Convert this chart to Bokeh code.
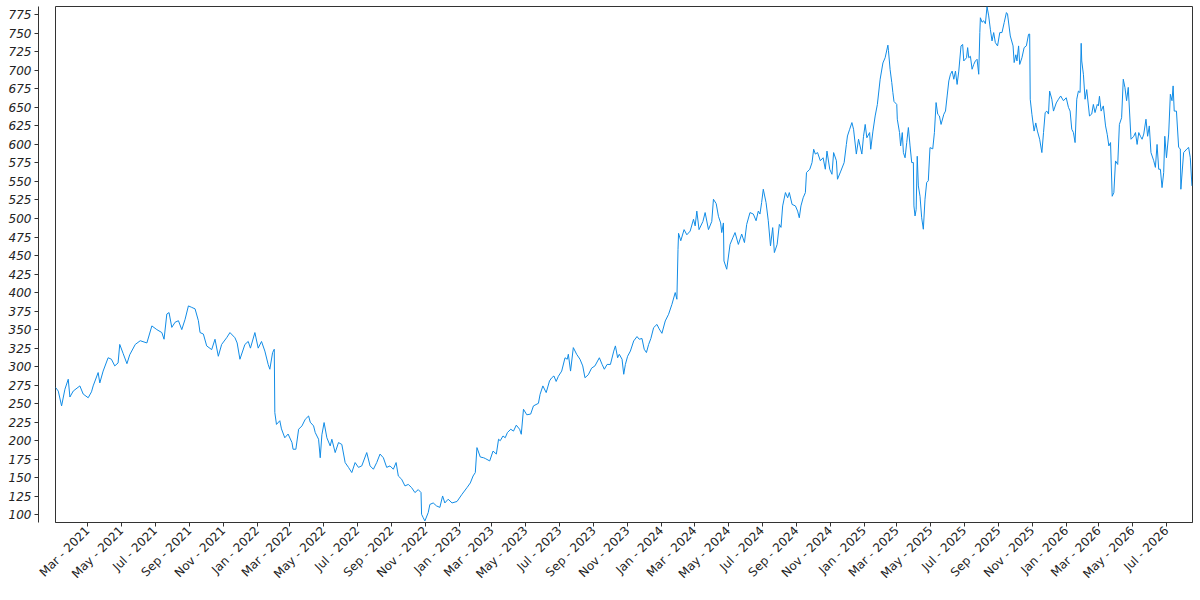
from datetime import datetime
import pandas as pd
from bokeh.plotting import figure
from bokeh.models import (ColumnDataSource, Range1d, LinearAxis, FixedTicker,
                          MonthsTicker, DatetimeTickFormatter)
from bokeh.embed import file_html
from bokeh.resources import INLINE
from math import pi

start_date = "2021-01-01"
range_start = "2021-01-02"
range_end = "2026-08-17"

# days since start_date (read from horizontal position) and values
day_offsets = [
    1, 6, 12, 18, 24, 27, 33, 45, 51, 60, 66, 69, 78, 81, 87, 96, 102, 108, 114, 117,
    123, 130, 135, 145, 154, 166, 175, 184, 193, 197, 202, 206, 211, 217, 223, 229, 235, 241, 247, 253,
    259, 262, 268, 274, 283, 289, 295, 301, 310, 316, 325, 329, 334, 343, 349, 353, 361, 367, 373, 379,
    385, 388, 393, 396, 397, 400, 406, 409, 415, 421, 428, 430, 435, 440, 446, 452, 458, 461, 467, 470,
    476, 479, 482, 486, 491, 497, 500, 506, 512, 518, 524, 530, 536, 542, 548, 554, 563, 569, 575, 581,
    587, 593, 599, 605, 611, 616, 620, 626, 632, 638, 644, 650, 656, 661, 662, 665, 668, 674, 677, 683,
    689, 695, 700, 704, 710, 717, 726, 735, 744, 750, 755, 759, 762, 768, 774, 777, 785, 791, 797, 801,
    804, 809, 813, 817, 823, 828, 833, 839, 842, 846, 852, 859, 864, 873, 876, 881, 887, 893, 897, 901,
    905, 909, 915, 921, 925, 927, 931, 936, 942, 948, 953, 957, 963, 969, 975, 983, 988, 992, 997, 1003,
    1009, 1012, 1016, 1019, 1024, 1027, 1030, 1034, 1039, 1045, 1051, 1055, 1060, 1064, 1068, 1072, 1076, 1081, 1087, 1091,
    1096, 1102, 1108, 1114, 1120, 1123, 1125, 1126, 1130, 1136, 1141, 1147, 1153, 1156, 1159, 1163, 1170, 1174, 1180, 1186,
    1189, 1194, 1198, 1202, 1204, 1207, 1208, 1213, 1219, 1224, 1228, 1234, 1240, 1245, 1249, 1255, 1261, 1266, 1270, 1273,
    1276, 1279, 1284, 1288, 1292, 1296, 1299, 1304, 1308, 1311, 1314, 1319, 1323, 1326, 1331, 1337, 1341, 1344, 1347, 1351,
    1355, 1357, 1363, 1367, 1370, 1373, 1377, 1382, 1387, 1391, 1394, 1399, 1403, 1406, 1411, 1413, 1419, 1425, 1429, 1431,
    1435, 1439, 1442, 1447, 1451, 1457, 1460, 1463, 1466, 1471, 1473, 1477, 1481, 1485, 1490, 1495, 1499, 1504, 1505, 1508,
    1511, 1513, 1515, 1520, 1521, 1525, 1527, 1530, 1532, 1535, 1538, 1541, 1544, 1547, 1550, 1551, 1553, 1555, 1557, 1559,
    1562, 1565, 1568, 1571, 1574, 1577, 1580, 1585, 1588, 1591, 1594, 1597, 1600, 1605, 1608, 1611, 1614, 1617, 1620, 1623,
    1626, 1629, 1632, 1636, 1639, 1641, 1646, 1648, 1650, 1653, 1656, 1659, 1662, 1665, 1668, 1670, 1671, 1674, 1677, 1680,
    1683, 1686, 1689, 1692, 1695, 1698, 1702, 1706, 1710, 1714, 1718, 1720, 1725, 1730, 1732, 1735, 1737, 1740, 1742, 1746,
    1750, 1754, 1758, 1760, 1761, 1764, 1768, 1771, 1774, 1778, 1782, 1785, 1788, 1791, 1794, 1796, 1800, 1803, 1808, 1812,
    1816, 1821, 1826, 1830, 1833, 1836, 1839, 1842, 1845, 1848, 1851, 1853, 1854, 1857, 1860, 1863, 1868, 1872, 1875, 1878,
    1882, 1884, 1886, 1889, 1893, 1897, 1900, 1903, 1906, 1909, 1912, 1915, 1919, 1922, 1926, 1929, 1932, 1935, 1938, 1943,
    1948, 1951, 1954, 1957, 1960, 1963, 1966, 1970, 1973, 1976, 1979, 1984, 1987, 1990, 1993, 1996, 1999, 2002, 2004, 2007,
    2011, 2014, 2017, 2019, 2021, 2025, 2029, 2032, 2033, 2038, 2044, 2047, 2050, 2053,
]

values = [
    272, 267, 247, 269.5, 283, 259, 267, 274, 263, 258, 266, 274, 292, 278, 294, 312, 310, 301, 305, 330,
    318, 304, 316, 330, 335, 332, 355, 350, 346, 337, 371, 373, 353, 360, 362, 350, 364, 382, 380, 378,
    362, 346, 344, 328, 323, 337, 314, 330, 339, 346, 339, 332, 310, 330, 334, 325, 346, 325, 334, 321,
    303, 296.5, 319, 323.5, 238, 222, 227, 216, 204, 209, 197.5, 188.5, 188.5, 215.5, 220, 229, 233.4, 225, 220, 211,
    202, 177, 208, 224.5, 204, 193, 202, 184, 197.5, 195, 170.5, 164, 157, 170.5, 164, 166, 184, 166, 161.5, 170.5,
    182, 177, 164, 166, 161.5, 170.5, 152.4, 148, 139, 141, 136.7, 130, 134, 130, 100.7, 96, 91.7, 103, 114, 116,
    112, 110, 125.4, 116, 121, 116, 118, 127.7, 136.7, 143, 152.4, 157, 190.7, 178, 177, 176, 172.7, 186, 182, 202,
    200, 206.4, 204, 211, 215.5, 213, 221, 215.5, 208.7, 242.5, 235, 236, 247, 250.5, 262.7, 274, 265, 280.7, 285, 287.4,
    280, 287, 294, 312, 310, 316.7, 294, 325.7, 316.7, 310, 301, 285, 289, 298, 301, 312, 303, 296.5, 303, 303,
    321, 328, 312, 316.7, 310, 289.7, 303, 314, 321, 334.7, 340.6, 337, 338, 323.5, 319, 330, 338, 352.7, 357, 351,
    345, 361.7, 370.7, 384, 400, 391, 458, 480, 470, 485, 478, 483, 499, 490, 510, 485, 496, 508, 485, 496,
    526, 520, 503, 494, 481, 494, 442.7, 431.5, 465, 474, 481, 465, 479, 467.5, 492, 508, 506, 497, 510, 506,
    521.5, 539.5, 521.5, 497, 463, 487.7, 454, 465, 492, 488, 517, 535, 528, 535, 519, 517, 510, 501, 517, 528,
    535, 562, 566.5, 575.5, 593.5, 587, 589, 578, 582, 566.5, 591, 566.5, 559.7, 589, 578, 553, 564, 575.5, 600, 611.4,
    620.5, 629.5, 620.5, 587, 607, 587, 611, 627, 609, 616, 593.5, 618, 638.4, 654, 688, 710, 717, 734, 727, 701,
    683.5, 670, 658, 654, 634, 616, 598, 616, 589, 582, 602.5, 622.8, 598, 575.5, 575.5, 517, 503.4, 512, 584, 544,
    530, 501, 485.5, 526, 548.5, 551, 595.7, 594, 616, 656.5, 640.7, 638.5, 627, 640.7, 645, 665.4, 685.7, 694.7, 699, 688,
    699, 681, 699, 733, 735, 712.7, 717, 730.7, 717, 719, 701.5, 708, 712.7, 715, 694.7, 751, 771, 765, 767, 763,
    786, 773.5, 755.5, 739.7, 751, 737.5, 733, 751, 751, 764.5, 778, 776, 746.4, 733, 710.5, 721, 712.7, 733, 708, 717,
    730.7, 733, 748.7, 749, 661, 640.7, 618, 629, 618, 607, 589, 616, 643, 645, 641, 672, 661, 645, 656, 661,
    665.4, 659, 663, 650, 645, 620.5, 616, 602.5, 661, 672, 670, 736.5, 712.7, 694.7, 661, 674, 638.4, 641, 654, 643,
    654, 652, 665, 645, 652, 625, 613.7, 598, 602.5, 530, 535, 577.7, 573, 627, 636, 688, 677, 659, 677, 607,
    611, 616, 600, 616, 611, 607, 614, 634, 611, 625, 589, 578, 569, 600, 566.5, 566.5, 541.7, 562, 611, 582,
    614, 667.7, 659, 679, 645, 645, 596, 594, 539.5, 589, 594, 596, 582, 544,
]

y_ticks = list(range(100, 776, 25))
# BokehJS months are 0-based: Jan, Mar, May, Jul, Sep, Nov
x_tick_months = [0, 2, 4, 6, 8, 10]

dates = pd.Timestamp(start_date) + pd.to_timedelta(day_offsets, unit="D")
source = ColumnDataSource(data=dict(date=dates, value=values))

p = figure(width=1196, height=592, x_axis_type="datetime", y_axis_location=None,
           output_backend="svg", toolbar_location=None,
           x_range=Range1d(pd.Timestamp(range_start), pd.Timestamp(range_end)),
           y_range=Range1d(89.6, 786.2),
           min_border_left=55, min_border_right=4, min_border_top=6, min_border_bottom=70)

p.line("date", "value", source=source, line_color="#118ce6", line_width=1)

p.xgrid.grid_line_color = None
p.ygrid.grid_line_color = None
p.outline_line_color = "#333333"
p.outline_line_width = 1

# spacer axis (gap between y axis and frame): blank axis label gives it width
spacer = LinearAxis(ticker=FixedTicker(ticks=[400]), major_tick_out=0, major_tick_in=0,
                    major_label_standoff=0, axis_line_color=None,
                    major_tick_line_color="white", minor_tick_line_color=None,
                    minor_tick_out=0, minor_tick_in=0,
                    major_label_text_font_size="1px", major_label_text_color="white",
                    major_label_overrides={400: ""},
                    axis_label="\u00a0", axis_label_standoff=0,
                    axis_label_text_font_size="12px",
                    axis_label_text_color="white")

yaxis = LinearAxis(ticker=FixedTicker(ticks=y_ticks))
yaxis.major_label_text_font = "DejaVu Sans"
yaxis.major_label_text_font_style = "italic"
yaxis.major_label_text_font_size = "12px"
yaxis.major_label_text_color = "#222222"
yaxis.axis_line_color = "#333333"
yaxis.major_tick_line_color = "#333333"
yaxis.major_tick_out = 4
yaxis.major_tick_in = 0
yaxis.minor_tick_line_color = None
yaxis.major_label_standoff = 3

p.add_layout(spacer, "left")
p.add_layout(yaxis, "left")

xaxis = p.xaxis[0]
xaxis.ticker = MonthsTicker(months=x_tick_months)
fmt = "%b - %Y"
xaxis.formatter = DatetimeTickFormatter(months=fmt, days=fmt, years=fmt, hours=fmt,
                                        minutes=fmt, seconds=fmt, milliseconds=fmt,
                                        microseconds=fmt, minsec=fmt, hourmin=fmt)
xaxis.major_label_orientation = pi / 4
xaxis.major_label_text_font = "DejaVu Sans"
xaxis.major_label_text_font_size = "12px"
xaxis.major_label_text_color = "#222222"
xaxis.axis_line_color = "#333333"
xaxis.major_tick_line_color = "#333333"
xaxis.major_tick_out = 4
xaxis.major_tick_in = 0
xaxis.minor_tick_line_color = None
xaxis.major_label_standoff = 2

open("out.html", "w").write(file_html(p, INLINE))
